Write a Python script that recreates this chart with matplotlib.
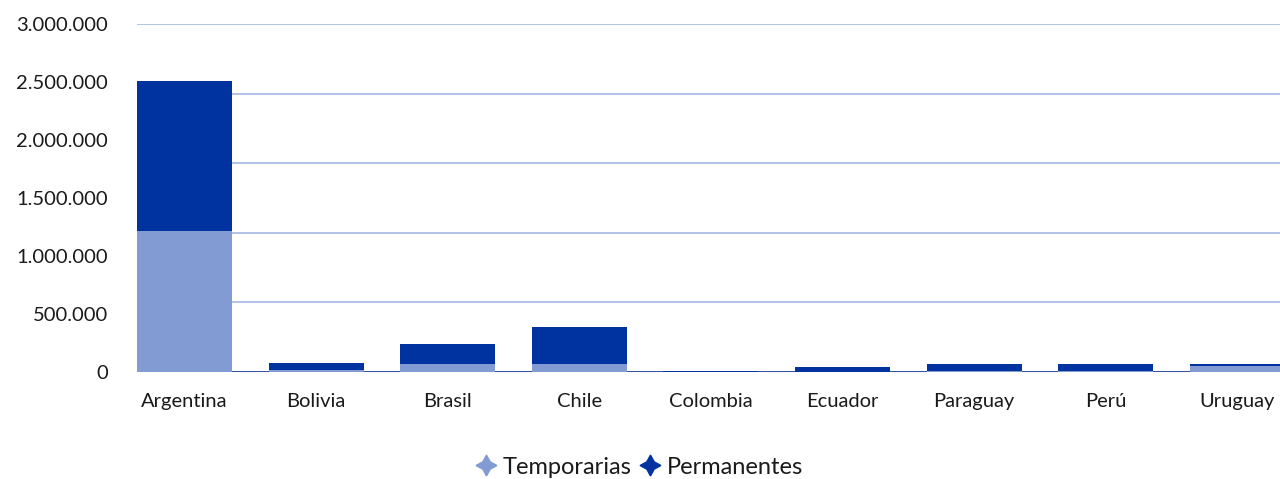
import matplotlib
matplotlib.use("Agg")
import matplotlib.pyplot as plt
import numpy as np

paises = ["Argentina", "Bolivia", "Brasil", "Chile", "Colombia",
          "Ecuador", "Paraguay", "Perú", "Uruguay"]
temporarias = [1215000, 15000, 68000, 68000, 4000, 3000, 8000, 8000, 50000]
permanentes = [1295000, 63000, 173000, 320000, 8000, 40000, 61000, 61000, 15000]

y_ticks = [0, 500000, 1000000, 1500000, 2000000, 2500000, 3000000]
y_labels = ["0", "500.000", "1.000.000", "1.500.000", "2.000.000", "2.500.000", "3.000.000"]
grid_vals = [600000, 1200000, 1800000, 2400000, 3000000]

c_temp = "#829bd2"
c_perm = "#0033a0"

plt.rcParams['font.family'] = ['Lato', 'DejaVu Sans']

fig = plt.figure(figsize=(12.8, 4.79), dpi=100)
ax = fig.add_axes([0.107, 0.2234, 0.893, 0.7266])

x = np.arange(len(paises))
w = 0.722
for g in grid_vals:
    ax.axhline(g, color="#9db1e0", lw=1.1, zorder=0)
ax.bar(x, temporarias, w, color=c_temp, zorder=2, label="Temporarias")
ax.bar(x, permanentes, w, bottom=temporarias, color=c_perm, zorder=2, label="Permanentes")
ax.axhline(0, color="#1f3f9c", lw=1.3, zorder=1)

ax.set_xlim(-0.361, 8.324)
ax.set_ylim(0, 3000000)
ax.set_yticks(y_ticks)
ax.set_yticklabels(y_labels)
ax.set_xticks(x)
ax.set_xticklabels(paises)
ax.tick_params(axis="both", length=0, labelsize=14.5, colors="#1a1a1a")
ax.tick_params(axis="y", pad=21)
ax.tick_params(axis="x", pad=15)
for s in ax.spines.values():
    s.set_visible(False)

h1 = plt.Line2D([], [], marker=(4, 1, 0), color=c_temp, ls="none", markersize=15)
h2 = plt.Line2D([], [], marker=(4, 1, 0), color=c_perm, ls="none", markersize=15)
fig.legend([h1, h2], ["Temporarias", "Permanentes"], loc="center",
           bbox_to_anchor=(0.5, 0.025), ncol=2, frameon=False, fontsize=17,
           handlelength=0.8, handletextpad=0.3, columnspacing=0.4,
           labelcolor="#1a1a1a")

fig.savefig("out.png", dpi=100)
